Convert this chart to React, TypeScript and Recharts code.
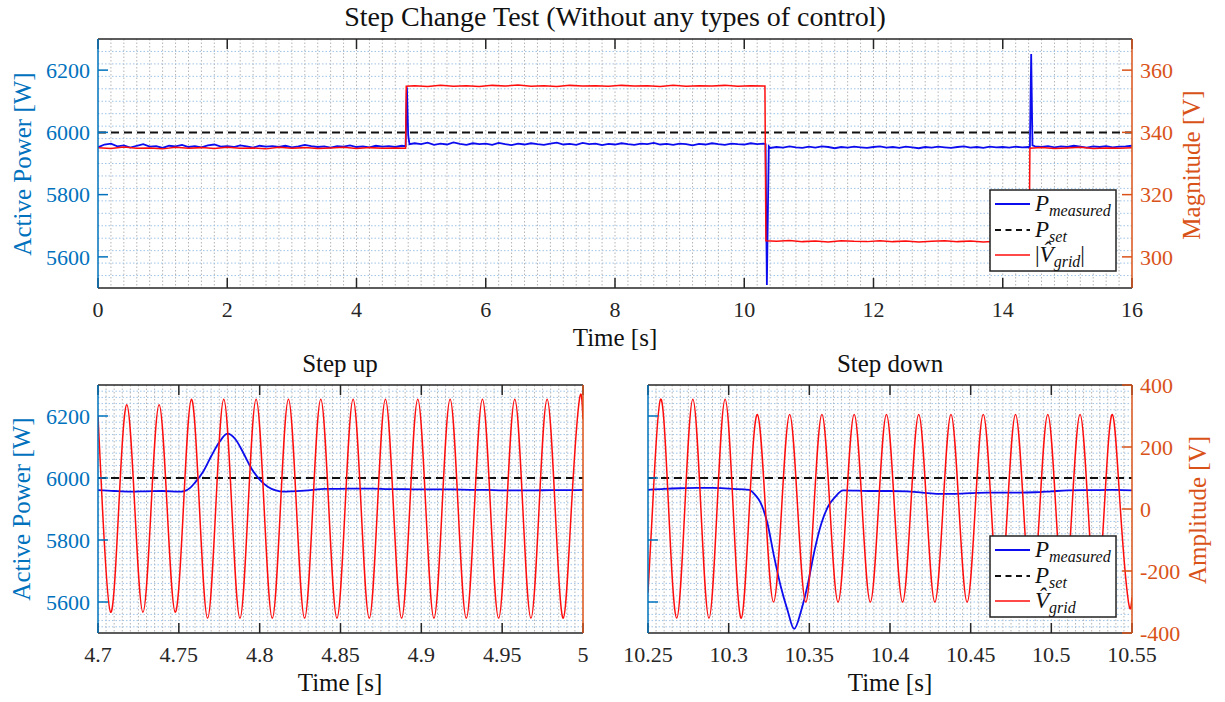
import React from 'react';
import { LineChart, Line, XAxis, YAxis, CartesianGrid, ReferenceLine } from 'recharts';

const FONT = "'Liberation Serif', 'Times New Roman', serif";
const AX_BLUE = '#0072BD';
const AX_ORANGE = '#D95319';
const AX_BLACK = '#262626';
const P_BLUE = '#0c0cee';
const V_RED = '#ff0d0d';

// ---------- tick labels ----------
const TOP_TIME_TICKS = [0, 2, 4, 6, 8, 10, 12, 14, 16];
const POWER_TICKS = [5600, 5800, 6000, 6200];
const MAG_TICKS = [300, 320, 340, 360];
const UP_TIME_TICKS = [4.7, 4.75, 4.8, 4.85, 4.9, 4.95, 5];
const DOWN_TIME_TICKS = [10.25, 10.3, 10.35, 10.4, 10.45, 10.5, 10.55];
const AMP_TICKS = [-400, -200, 0, 200, 400];
const P_SET = 6000;

// ---------- top chart: measured power [t, W] ----------
const topPower = [
  [0.0, 5952], [0.1, 5961], [0.2, 5964], [0.3, 5955], [0.4, 5958], [0.5, 5951], [0.6, 5957], [0.7, 5962], [0.8, 5954], [0.9, 5956],
  [1.0, 5950], [1.1, 5957], [1.2, 5955], [1.3, 5960], [1.4, 5953], [1.5, 5956], [1.6, 5952], [1.7, 5958], [1.8, 5961], [1.9, 5954],
  [2.0, 5956], [2.1, 5953], [2.2, 5958], [2.3, 5955], [2.4, 5951], [2.5, 5957], [2.6, 5954], [2.7, 5956], [2.8, 5953], [2.9, 5957],
  [3.0, 5952], [3.1, 5955], [3.2, 5960], [3.3, 5956], [3.4, 5953], [3.5, 5955], [3.6, 5951], [3.7, 5956], [3.8, 5954], [3.9, 5958],
  [4.0, 5953], [4.1, 5955], [4.2, 5952], [4.3, 5957], [4.4, 5954], [4.5, 5956], [4.6, 5953], [4.7, 5957],
  [4.76, 5956], [4.78, 6145], [4.80, 5990], [4.82, 5962],
  [4.9, 5965], [5.0, 5962], [5.1, 5967], [5.2, 5960], [5.3, 5964], [5.4, 5961], [5.5, 5968], [5.6, 5963], [5.7, 5960], [5.8, 5965], [5.9, 5962],
  [6.0, 5964], [6.1, 5960], [6.2, 5966], [6.3, 5962], [6.4, 5959], [6.5, 5964], [6.6, 5961], [6.7, 5965], [6.8, 5962], [6.9, 5960],
  [7.0, 5964], [7.1, 5967], [7.2, 5961], [7.3, 5963], [7.4, 5960], [7.5, 5966], [7.6, 5962], [7.7, 5964], [7.8, 5959], [7.9, 5963],
  [8.0, 5961], [8.1, 5965], [8.2, 5962], [8.3, 5960], [8.4, 5964], [8.5, 5962], [8.6, 5966], [8.7, 5961], [8.8, 5963], [8.9, 5960],
  [9.0, 5964], [9.1, 5962], [9.2, 5958], [9.3, 5963], [9.4, 5961], [9.5, 5965], [9.6, 5962], [9.7, 5960], [9.8, 5964], [9.9, 5962],
  [10.0, 5961], [10.1, 5965], [10.2, 5962], [10.3, 5964],
  [10.33, 5962], [10.35, 5510], [10.38, 5955],
  [10.4, 5950], [10.5, 5953], [10.6, 5951], [10.7, 5955], [10.8, 5952], [10.9, 5950],
  [11.0, 5954], [11.1, 5951], [11.2, 5955], [11.3, 5953], [11.4, 5949], [11.5, 5953], [11.6, 5951], [11.7, 5954], [11.8, 5952], [11.9, 5950],
  [12.0, 5953], [12.1, 5955], [12.2, 5951], [12.3, 5953], [12.4, 5950], [12.5, 5954], [12.6, 5952], [12.7, 5949], [12.8, 5953], [12.9, 5951],
  [13.0, 5954], [13.1, 5952], [13.2, 5950], [13.3, 5953], [13.4, 5955], [13.5, 5951], [13.6, 5953], [13.7, 5950], [13.8, 5954], [13.9, 5952],
  [14.0, 5953], [14.1, 5951], [14.2, 5954], [14.3, 5952], [14.4, 5953],
  [14.42, 5952], [14.44, 6252], [14.46, 5958],
  [14.5, 5955], [14.6, 5953], [14.7, 5956], [14.8, 5952], [14.9, 5955],
  [15.0, 5953], [15.1, 5957], [15.2, 5954], [15.3, 5951], [15.4, 5955], [15.5, 5953], [15.6, 5956], [15.7, 5952], [15.8, 5954], [15.9, 5955], [16.0, 5957],
];

// ---------- top chart: grid voltage magnitude [t, V] ----------
const topMagnitude = [
  [0.0, 335.1], [0.2, 334.8], [0.4, 335.3], [0.6, 334.9], [0.8, 335.0], [1.0, 334.7], [1.2, 335.2], [1.4, 334.9], [1.6, 335.1], [1.8, 334.8],
  [2.0, 335.2], [2.2, 334.9], [2.4, 335.0], [2.6, 334.7], [2.8, 335.2], [3.0, 334.9], [3.2, 335.1], [3.4, 334.8], [3.6, 335.0], [3.8, 335.2],
  [4.0, 334.8], [4.2, 335.1], [4.4, 334.9], [4.6, 335.0], [4.76, 334.9],
  [4.77, 354.8], [4.9, 355.0], [5.1, 354.7], [5.3, 355.1], [5.5, 354.8], [5.7, 355.0], [5.9, 354.7], [6.1, 355.1], [6.3, 354.9], [6.5, 355.2], [6.7, 354.8], [6.9, 355.0],
  [7.1, 354.7], [7.3, 355.1], [7.5, 354.9], [7.7, 355.0], [7.9, 354.8], [8.1, 355.1], [8.3, 354.9], [8.5, 355.0], [8.7, 354.7], [8.9, 355.1], [9.1, 354.8], [9.3, 355.0],
  [9.5, 354.9], [9.7, 355.1], [9.9, 354.8], [10.1, 355.0], [10.32, 354.9],
  [10.335, 305.2], [10.5, 305.0], [10.7, 305.3], [10.9, 304.9], [11.1, 305.1], [11.3, 304.8], [11.5, 305.2], [11.7, 305.0], [11.9, 304.9], [12.1, 305.2], [12.3, 304.9],
  [12.5, 305.1], [12.7, 304.8], [12.9, 305.0], [13.1, 305.2], [13.3, 304.9], [13.5, 305.1], [13.7, 304.8], [13.9, 305.0], [14.1, 305.2], [14.3, 304.9], [14.41, 305.0],
  [14.42, 334.9], [14.6, 335.1], [14.8, 334.8], [15.0, 335.0], [15.2, 335.2], [15.4, 334.8], [15.6, 335.0], [15.8, 334.9], [16.0, 335.1],
];

// ---------- step up: measured power [t, W] ----------
const upPower = [
  [4.70, 5961], [4.71, 5958], [4.72, 5956], [4.73, 5957], [4.74, 5958], [4.75, 5956], [4.753, 5957], [4.757, 5968],
  [4.760, 5985], [4.765, 6020], [4.770, 6070], [4.775, 6115], [4.780, 6143], [4.785, 6125], [4.790, 6080], [4.795, 6030],
  [4.800, 5995], [4.805, 5972], [4.810, 5960], [4.815, 5956], [4.820, 5957], [4.830, 5960], [4.840, 5965], [4.850, 5965],
  [4.860, 5966], [4.870, 5966], [4.880, 5964], [4.890, 5964], [4.900, 5963], [4.910, 5963], [4.920, 5963], [4.930, 5962],
  [4.940, 5962], [4.950, 5960], [4.960, 5960], [4.970, 5960], [4.980, 5961], [4.990, 5961], [5.000, 5962],
];

// ---------- step up: grid voltage waveform [t, V] (peaks, zero crossings, troughs) ----------
const upVoltage = [
  [4.7, 300], [4.7028, 0], [4.7078, -333], [4.7128, 0], [4.7178, 336], [4.7228, 0], [4.7278, -333], [4.7328, 0], [4.7378, 336],
  [4.7428, 0], [4.7478, -333], [4.7528, 0], [4.7578, 354], [4.7628, 0], [4.7678, -352], [4.7728, 0], [4.7778, 354], [4.7828, 0],
  [4.7878, -352], [4.7928, 0], [4.7978, 354], [4.8028, 0], [4.8078, -352], [4.8128, 0], [4.8178, 354], [4.8228, 0], [4.8278, -352],
  [4.8328, 0], [4.8378, 354], [4.8428, 0], [4.8478, -352], [4.8528, 0], [4.8578, 354], [4.8628, 0], [4.8678, -352], [4.8728, 0],
  [4.8778, 354], [4.8828, 0], [4.8878, -352], [4.8928, 0], [4.8978, 354], [4.9028, 0], [4.9078, -352], [4.9128, 0], [4.9178, 354],
  [4.9228, 0], [4.9278, -352], [4.9328, 0], [4.9378, 354], [4.9428, 0], [4.9478, -352], [4.9528, 0], [4.9578, 354], [4.9628, 0],
  [4.9678, -352], [4.9728, 0], [4.9778, 354], [4.9828, 0], [4.9878, -352], [4.9928, 0], [4.9978, 354], [5.0, 290],
];

// ---------- step down: measured power [t, W] ----------
const downPower = [
  [10.25, 5962], [10.26, 5965], [10.27, 5967], [10.28, 5968], [10.29, 5968], [10.30, 5966], [10.31, 5963], [10.3127, 5962],
  [10.3165, 5945], [10.3199, 5919], [10.324, 5855], [10.3281, 5748], [10.3323, 5650], [10.3364, 5575], [10.3406, 5513],
  [10.3451, 5575], [10.3492, 5661], [10.3533, 5768], [10.3575, 5854], [10.3616, 5908], [10.3657, 5937], [10.371, 5960],
  [10.38, 5959], [10.39, 5958], [10.40, 5958], [10.41, 5957], [10.42, 5953], [10.43, 5949], [10.44, 5949], [10.45, 5951],
  [10.46, 5953], [10.47, 5953], [10.48, 5953], [10.49, 5954], [10.50, 5957], [10.51, 5960], [10.52, 5961], [10.53, 5961],
  [10.54, 5962], [10.55, 5960],
];

// ---------- step down: grid voltage waveform [t, V] ----------
const downVoltage = [
  [10.25, -270], [10.2528, 0], [10.2578, 354], [10.2628, 0], [10.2678, -352], [10.2728, 0], [10.2778, 354], [10.2828, 0],
  [10.2878, -352], [10.2928, 0], [10.2978, 354], [10.3028, 0], [10.3078, -352], [10.3128, 0], [10.3178, 305], [10.3228, 0],
  [10.3278, -300], [10.3328, 0], [10.3378, 305], [10.3428, 0], [10.3478, -300], [10.3528, 0], [10.3578, 305], [10.3628, 0],
  [10.3678, -300], [10.3728, 0], [10.3778, 305], [10.3828, 0], [10.3878, -300], [10.3928, 0], [10.3978, 305], [10.4028, 0],
  [10.4078, -300], [10.4128, 0], [10.4178, 305], [10.4228, 0], [10.4278, -300], [10.4328, 0], [10.4378, 305], [10.4428, 0],
  [10.4478, -300], [10.4528, 0], [10.4578, 305], [10.4628, 0], [10.4678, -300], [10.4728, 0], [10.4778, 305], [10.4828, 0],
  [10.4878, -300], [10.4928, 0], [10.4978, 305], [10.5028, 0], [10.5078, -300], [10.5128, 0], [10.5178, 305], [10.5228, 0],
  [10.5278, -300], [10.5328, 0], [10.5378, 305], [10.5428, 0], [10.5478, -300], [10.55, -285],
];

// ---------- helpers ----------
const toPts = (arr: number[][]) => arr.map(([t, v]) => ({ t, v }));
const steps = (a: number, b: number, s: number) => {
  const out: number[] = [];
  const n = Math.round((b - a) / s);
  for (let i = 1; i < n; i++) out.push(+(a + i * s).toFixed(5));
  return out;
};

const tickStyle = (fill: string) => ({ fill, fontSize: 22, fontFamily: FONT, style: { fontFamily: FONT } });

type PanelProps = {
  left: number; top: number; width: number; height: number;
  marginTop: number; leftW: number; rightW: number; xH: number;
  xDomain: [number, number]; xTicks: number[]; minorX: number[];
  yMinor: number[]; rDomain: [number, number]; rTicks: number[];
  showLeftLabels: boolean; showRightTicks: boolean;
  power: { t: number; v: number }[]; volt: { t: number; v: number }[];
  voltType: 'linear' | 'natural'; powerType: 'linear' | 'monotone';
};

function Panel(p: PanelProps) {
  return (
    <div style={{ position: 'absolute', left: p.left, top: p.top, fontFamily: FONT }}>
      <LineChart width={p.width} height={p.height} margin={{ top: p.marginTop, right: 0, bottom: 0, left: 0 }} style={{ fontFamily: FONT }}>
        <CartesianGrid horizontal={false} verticalValues={p.minorX} stroke="#b4b4b4" strokeDasharray="1.5 2" strokeWidth={1} />
        <CartesianGrid vertical={false} horizontalValues={p.yMinor} stroke="#9fc4e8" strokeDasharray="1.5 2" strokeWidth={1} />
        <XAxis
          dataKey="t" type="number" domain={p.xDomain} ticks={p.xTicks} allowDataOverflow interval={0}
          height={p.xH} tickSize={-10} tickMargin={23}
          axisLine={{ stroke: AX_BLACK, strokeWidth: 1.5 }} tickLine={{ stroke: AX_BLACK, strokeWidth: 1.5 }}
          tick={tickStyle(AX_BLACK)}
        />
        <XAxis
          xAxisId="top" orientation="top" dataKey="t" type="number" domain={p.xDomain} ticks={p.xTicks} allowDataOverflow interval={0}
          height={10} tickSize={-10} tickFormatter={() => ''}
          axisLine={{ stroke: AX_BLACK, strokeWidth: 1.5 }} tickLine={{ stroke: AX_BLACK, strokeWidth: 1.5 }}
        />
        <YAxis
          type="number" domain={[5500, 6300]} ticks={POWER_TICKS} allowDataOverflow interval={0}
          width={p.leftW} tickSize={-10} tickMargin={18}
          axisLine={{ stroke: AX_BLUE, strokeWidth: 1.5 }} tickLine={{ stroke: AX_BLUE, strokeWidth: 1.5 }}
          tick={tickStyle(AX_BLUE)} tickFormatter={p.showLeftLabels ? undefined : () => ''}
        />
        <YAxis
          yAxisId="r" orientation="right" type="number" domain={p.rDomain} ticks={p.rTicks} allowDataOverflow interval={0}
          width={p.rightW} tickSize={p.showRightTicks ? -10 : 0} tickMargin={18}
          axisLine={{ stroke: AX_ORANGE, strokeWidth: 1.5 }}
          tickLine={p.showRightTicks ? { stroke: AX_ORANGE, strokeWidth: 1.5 } : false}
          tick={p.showRightTicks ? tickStyle(AX_ORANGE) : false}
        />
        <ReferenceLine y={P_SET} stroke="#111" strokeWidth={2} strokeDasharray="8 5" />
        <Line data={p.power} dataKey="v" type={p.powerType} stroke={P_BLUE} strokeWidth={1.8} dot={false} activeDot={false} isAnimationActive={false} />
        <Line yAxisId="r" data={p.volt} dataKey="v" type={p.voltType} stroke={V_RED} strokeWidth={1.5} dot={false} activeDot={false} isAnimationActive={false} />
      </LineChart>
    </div>
  );
}

function LegendBox({ x, y, hat }: { x: number; y: number; hat: 'abs' | 'plain' }) {
  const rows = [14, 40, 65];
  return (
    <g fontFamily={FONT}>
      <rect x={x} y={y} width={126} height={81} fill="#fff" stroke="#222" strokeWidth={1.5} />
      <line x1={x + 5} x2={x + 40} y1={y + rows[0]} y2={y + rows[0]} stroke={P_BLUE} strokeWidth={1.8} />
      <line x1={x + 5} x2={x + 40} y1={y + rows[1]} y2={y + rows[1]} stroke="#111" strokeWidth={1.8} strokeDasharray="6 4.5" />
      <line x1={x + 5} x2={x + 40} y1={y + rows[2]} y2={y + rows[2]} stroke={V_RED} strokeWidth={1.5} />
      <text x={x + 45} y={y + rows[0] + 7} fontSize={23} fill="#111">
        <tspan fontStyle="italic">P</tspan>
        <tspan fontStyle="italic" fontSize={16} dy={5}>measured</tspan>
      </text>
      <text x={x + 45} y={y + rows[1] + 7} fontSize={23} fill="#111">
        <tspan fontStyle="italic">P</tspan>
        <tspan fontStyle="italic" fontSize={16} dy={5}>set</tspan>
      </text>
      <text x={x + 45} y={y + rows[2] + 7} fontSize={23} fill="#111">
        {hat === 'abs' ? <tspan>|</tspan> : null}
        <tspan fontStyle="italic">{'V\u0302'}</tspan>
        <tspan fontStyle="italic" fontSize={16} dy={5}>grid</tspan>
        {hat === 'abs' ? <tspan dy={-5}>|</tspan> : null}
      </text>
    </g>
  );
}

function Overlay() {
  return (
    <svg width={1225} height={702} style={{ position: 'absolute', left: 0, top: 0, pointerEvents: 'none' }} fontFamily={FONT}>
      <text x={615} y={26} fontSize={28} textAnchor="middle" fill="#111">Step Change Test (Without any types of control)</text>
      <text x={615} y={346} fontSize={25} textAnchor="middle" fill="#111">Time [s]</text>
      <text transform="translate(31,164) rotate(-90)" fontSize={25} textAnchor="middle" fill={AX_BLUE}>Active Power [W]</text>
      <text transform="translate(1200,165) rotate(-90)" fontSize={25} textAnchor="middle" fill={AX_ORANGE}>Magnitude [V]</text>

      <text x={340} y={372} fontSize={25} textAnchor="middle" fill="#111">Step up</text>
      <text x={890} y={372} fontSize={25} textAnchor="middle" fill="#111">Step down</text>
      <text x={340} y={691} fontSize={25} textAnchor="middle" fill="#111">Time [s]</text>
      <text x={890} y={691} fontSize={25} textAnchor="middle" fill="#111">Time [s]</text>
      <text transform="translate(30,509) rotate(-90)" fontSize={25} textAnchor="middle" fill={AX_BLUE}>Active Power [W]</text>
      <text transform="translate(1206,510) rotate(-90)" fontSize={25} textAnchor="middle" fill={AX_ORANGE}>Amplitude [V]</text>

      <LegendBox x={990} y={190} hat="abs" />
      <LegendBox x={990} y={536} hat="plain" />
    </svg>
  );
}

export default function App() {
  return (
    <div style={{ position: 'absolute', left: 0, top: 0, width: 1225, height: 702, background: '#fff', overflow: 'hidden', fontFamily: FONT }}>
      <Panel
        left={0} top={0} width={1225} height={360} marginTop={29} leftW={98} rightW={93} xH={72}
        xDomain={[0, 16]} xTicks={TOP_TIME_TICKS} minorX={steps(0, 16, 0.2)} yMinor={steps(5500, 6300, 40)}
        rDomain={[290, 370]} rTicks={MAG_TICKS} showLeftLabels showRightTicks
        power={toPts(topPower)} volt={toPts(topMagnitude)} voltType="linear" powerType="linear"
      />
      <Panel
        left={0} top={355} width={612} height={347} marginTop={20} leftW={98} rightW={29} xH={69}
        xDomain={[4.7, 5]} xTicks={UP_TIME_TICKS} minorX={steps(4.7, 5, 0.005)} yMinor={steps(5500, 6300, 20)}
        rDomain={[-400, 400]} rTicks={AMP_TICKS} showLeftLabels showRightTicks={false}
        power={toPts(upPower)} volt={toPts(upVoltage)} voltType="natural" powerType="monotone"
      />
      <Panel
        left={612} top={355} width={613} height={347} marginTop={20} leftW={36} rightW={93} xH={69}
        xDomain={[10.25, 10.55]} xTicks={DOWN_TIME_TICKS} minorX={steps(10.25, 10.55, 0.005)} yMinor={steps(5500, 6300, 20)}
        rDomain={[-400, 400]} rTicks={AMP_TICKS} showLeftLabels={false} showRightTicks
        power={toPts(downPower)} volt={toPts(downVoltage)} voltType="natural" powerType="monotone"
      />
      <Overlay />
    </div>
  );
}
